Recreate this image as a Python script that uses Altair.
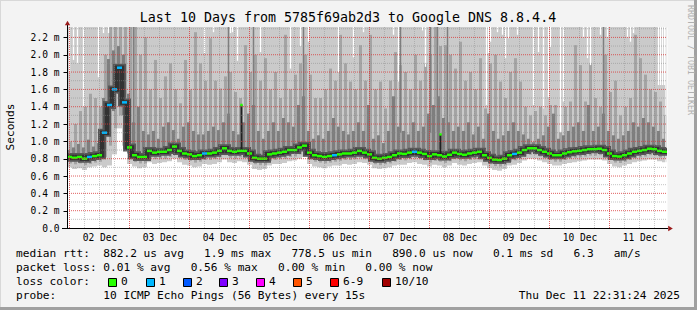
import altair as alt
import pandas as pd

MONO = "DejaVu Sans Mono"

# ---------------- data ----------------
T0 = 23.0          # hours after 2025-12-01 00:00 at the left edge of the plot
T1 = 263.0
STEP = 2.0         # hours per consolidated sample
YMAX = 2.32        # ms

med = [0.82,0.81,0.82,0.80,0.82,0.83,0.84,1.10,1.42,1.60,1.85,1.45,0.93,0.84,0.82,0.82,0.89,0.87,0.88,0.88,
       0.90,0.94,0.89,0.86,0.85,0.83,0.84,0.86,0.86,0.87,0.89,0.92,0.89,0.88,0.89,0.89,0.86,0.81,0.80,0.80,
       0.85,0.86,0.87,0.88,0.90,0.90,0.93,0.95,0.87,0.84,0.83,0.82,0.83,0.84,0.85,0.86,0.86,0.87,0.89,0.87,
       0.85,0.81,0.80,0.81,0.82,0.84,0.86,0.855,0.87,0.88,0.87,0.855,0.83,0.85,0.84,0.825,0.845,0.87,0.855,0.845,
       0.86,0.87,0.88,0.84,0.81,0.79,0.785,0.80,0.84,0.855,0.87,0.90,0.92,0.92,0.90,0.88,0.86,0.84,0.84,0.86,
       0.875,0.885,0.89,0.90,0.91,0.91,0.915,0.90,0.86,0.83,0.825,0.84,0.86,0.88,0.89,0.90,0.915,0.91,0.89,0.88]

loss = [0,0,0,0,1,0,0,1,1,1,1,1,0,0,0,0,0,0,0,0,
        0,0,0,0,0,0,0,1,0,0,0,0,0,0,0,0,0,0,0,0,
        0,0,0,0,0,0,0,0,0,0,0,0,0,1,0,0,0,0,0,0,
        0,0,0,0,0,0,0,0,0,1,0,0,0,0,0,0,0,0,0,0,
        0,0,0,0,0,0,0,0,0,1,0,0,0,0,0,0,0,0,0,0,
        0,0,0,0,0,0,0,0,0,0,0,0,0,0,0,0,0,0,0,0]

lo_c = [0.78,0.77,0.78,0.76,0.78,0.79,0.80,0.90,1.15,1.35,1.55,1.30,0.86,0.80,0.78,0.78,0.85,0.83,0.84,0.84,
        0.86,0.89,0.85,0.82,0.81,0.79,0.80,0.82,0.82,0.83,0.85,0.87,0.85,0.84,0.85,0.85,0.82,0.77,0.76,0.76,
        0.81,0.82,0.83,0.84,0.86,0.86,0.88,0.90,0.83,0.80,0.79,0.78,0.79,0.80,0.81,0.82,0.82,0.83,0.85,0.83,
        0.81,0.77,0.76,0.77,0.78,0.80,0.82,0.81,0.83,0.84,0.83,0.81,0.79,0.81,0.80,0.78,0.80,0.83,0.81,0.80,
        0.82,0.83,0.84,0.80,0.77,0.75,0.74,0.76,0.80,0.81,0.83,0.86,0.88,0.88,0.86,0.84,0.82,0.80,0.80,0.82,
        0.83,0.84,0.85,0.86,0.87,0.87,0.87,0.86,0.82,0.79,0.78,0.80,0.82,0.84,0.85,0.86,0.87,0.87,0.85,0.84]

lo_b = [0.745,0.735,0.745,0.725,0.74,0.755,0.765,0.82,0.95,1.15,1.30,1.15,0.80,0.76,0.745,0.745,0.81,0.795,0.80,0.80,
        0.82,0.86,0.815,0.785,0.775,0.755,0.765,0.785,0.785,0.795,0.815,0.84,0.81,0.80,0.815,0.815,0.785,0.735,0.725,0.725,
        0.775,0.785,0.795,0.80,0.82,0.825,0.85,0.87,0.795,0.765,0.755,0.745,0.755,0.765,0.775,0.785,0.785,0.795,0.81,0.795,
        0.775,0.735,0.725,0.735,0.745,0.765,0.785,0.78,0.795,0.805,0.795,0.78,0.755,0.775,0.765,0.75,0.77,0.795,0.78,0.77,
        0.785,0.795,0.805,0.765,0.735,0.715,0.71,0.725,0.765,0.78,0.795,0.825,0.845,0.845,0.825,0.805,0.785,0.765,0.765,0.785,
        0.80,0.81,0.815,0.825,0.835,0.835,0.84,0.825,0.785,0.755,0.75,0.765,0.785,0.805,0.815,0.825,0.84,0.835,0.815,0.805]

lo_a = [0.70,0.68,0.69,0.67,0.70,0.71,0.72,0.70,0.72,0.85,1.15,0.95,0.74,0.71,0.69,0.70,0.76,0.74,0.75,0.76,
        0.77,0.80,0.76,0.73,0.72,0.70,0.71,0.74,0.73,0.74,0.76,0.79,0.76,0.75,0.77,0.76,0.73,0.68,0.67,0.68,
        0.72,0.74,0.74,0.75,0.77,0.78,0.80,0.82,0.74,0.71,0.70,0.69,0.71,0.72,0.72,0.74,0.73,0.74,0.76,0.75,
        0.73,0.69,0.68,0.69,0.70,0.72,0.73,0.73,0.75,0.76,0.74,0.73,0.71,0.73,0.72,0.70,0.72,0.75,0.73,0.72,
        0.74,0.75,0.76,0.72,0.69,0.67,0.66,0.68,0.72,0.73,0.75,0.78,0.80,0.80,0.78,0.76,0.74,0.72,0.72,0.74,
        0.75,0.76,0.77,0.78,0.79,0.79,0.79,0.78,0.74,0.71,0.70,0.72,0.74,0.76,0.77,0.78,0.79,0.79,0.77,0.76]

mid = [1.00,1.20,1.35,1.40,1.55,1.50,1.40,2.00,2.32,2.32,2.32,2.32,2.32,2.32,2.00,2.20,1.60,1.94,1.50,1.75,
       1.90,1.60,1.44,1.94,1.60,2.26,1.90,1.70,2.19,1.70,1.61,1.75,1.80,1.57,1.50,2.11,1.80,2.00,1.70,1.96,
       1.60,1.80,1.50,2.23,1.60,1.77,1.90,2.00,1.77,1.50,1.50,1.60,1.84,1.70,2.23,1.90,1.69,1.60,2.11,1.70,
       2.23,1.60,1.69,1.38,1.70,2.03,1.88,1.80,1.60,2.00,1.70,1.90,2.00,2.32,2.10,2.11,2.00,1.84,2.15,1.70,
       1.80,1.60,1.96,1.38,1.90,2.00,1.69,1.50,1.80,1.96,1.69,1.40,1.30,1.35,1.40,1.30,1.42,1.42,1.10,1.40,
       1.46,2.11,1.88,1.46,1.90,1.50,1.40,2.00,1.57,1.70,1.30,1.40,1.50,2.23,1.96,1.77,1.60,1.57,1.46,1.30]

dark = [0.90,0.93,0.97,0.93,1.02,0.94,0.98,1.50,1.95,2.05,2.10,2.00,1.55,1.22,1.40,1.12,1.08,1.12,1.03,1.17,
        1.22,1.13,1.03,1.17,1.22,1.12,1.08,1.08,1.12,1.17,1.13,1.22,1.32,1.12,1.08,1.22,1.32,1.42,1.12,1.03,
        1.12,1.22,1.12,1.27,1.22,1.17,1.42,1.52,1.12,1.03,1.07,1.03,1.12,1.27,1.17,1.12,1.08,1.12,1.22,1.12,
        1.42,1.03,1.07,0.98,1.12,1.52,1.17,1.12,1.08,1.22,1.12,1.17,1.32,1.42,1.52,1.27,1.22,1.12,1.17,1.12,
        1.22,1.08,1.17,1.03,1.32,1.12,1.03,1.07,1.12,1.22,1.12,1.08,1.03,0.99,1.03,1.07,1.17,1.32,1.03,1.07,
        1.12,1.17,1.22,1.12,1.42,1.12,1.17,1.32,1.12,1.07,1.03,1.07,1.12,1.22,1.17,1.27,1.22,1.17,1.12,1.03]

# thin white gaps (sample whose largest ping stayed below the top of the plot)
gap_t = [24.0,25.6,27.2,29.6,35.6,37.6,39.6,78.0,81.6,88.4,89.2,91.2,100.4,112.4,116.4,119.6,131.6,137.6,
         141.6,153.6,155.6,165.2,166.4,190.8,191.6,192.4,195.2,197.2,198.4,199.6,203.2,209.6,211.6,213.6,
         215.6,216.4,220.4,221.6,229.6,231.2,232.4,236.4,239.2,247.2,248.4,249.6,259.6,260.4,261.2,262.0,262.6]
gap_v = [1.79,1.94,1.90,1.40,1.74,2.25,2.25,2.02,2.26,2.25,2.26,1.93,2.03,1.84,2.10,2.15,1.80,1.97,
         2.26,2.23,1.69,2.28,1.86,1.42,2.02,2.15,2.26,2.23,1.96,2.19,2.23,1.42,2.03,1.38,
         1.51,2.09,1.11,1.46,2.20,1.96,1.88,2.23,2.20,2.20,2.15,2.25,1.65,1.65,1.65,1.65,0.0]

# thin dark streaks reaching the top
streak_t = [49.6,87.6,97.6,117.6,156.4,168.4,171.2,175.2,237.6]
streak_lo = [1.10,1.10,1.10,1.10,1.10,1.10,1.10,1.10,1.10]

# single-sample median spikes
spike_t = [92.8,172.4]
spike_base = [0.89,0.84]
spike_top = [1.42,1.08]

loss_codes = [0,1,2,3,4,5,6,10]
loss_labels = ["0","1","2","3","4","5","6-9","10/10"]
loss_colors = ["#26ff00","#00b8ff","#0059ff","#7e00ff","#ff00ff","#ff5500","#ff0000","#a10000"]

day_noon = [36,60,84,108,132,156,180,204,228,252]
day_midnight = [24,48,72,96,120,144,168,192,216,240]
minor_x = [h for h in range(30, 263, 6) if h % 24 != 0]
y_ticks = [0.0,0.2,0.4,0.6,0.8,1.0,1.2,1.4,1.6,1.8,2.0,2.2]
major_y = y_ticks[1:]
minor_y = [0.1,0.3,0.5,0.7,0.9,1.1,1.3,1.5,1.7,1.9,2.1,2.3]

title_text = "Last 10 Days from 5785f69ab2d3 to Google DNS 8.8.4.4"
row1 = "median rtt:  882.2 us avg   1.9 ms max   778.5 us min   890.0 us now   0.1 ms sd   6.3   am/s"
row2 = "packet loss: 0.01 % avg   0.56 % max   0.00 % min   0.00 % now"
row3_label = "loss color:"
box_x = [108,146,183,219,256,293,330,382]
row4 = "probe:       10 ICMP Echo Pings (56 Bytes) every 15s"
stamp_text = "Thu Dec 11 22:31:24 2025"

# ---------------- layout ----------------
W, H = 600, 201
PL, PT = 67, 27
LEG = 11.16      # legend font size

n = len(med)
bins = pd.DataFrame({
    "t0": [T0 + STEP * i for i in range(n)],
    "t1": [T0 + STEP * (i + 1) for i in range(n)],
    "med": med, "loss": loss, "lo_a": lo_a, "lo_b": lo_b, "lo_c": lo_c,
    "mid": mid, "dark": dark,
})
line_df = pd.DataFrame({"t0": list(bins["t0"]) + [T1], "med": med + [med[-1]]})
gaps = pd.DataFrame({"t": gap_t, "v": gap_v})
streaks = pd.DataFrame({"t": streak_t, "v": streak_lo})
spikes = pd.DataFrame({"t": spike_t, "b": spike_base, "v": spike_top})
dummy = pd.DataFrame({"a": [0]})

xs = alt.Scale(domain=[T0, T1], nice=False, zero=False)
ys = alt.Scale(domain=[0, YMAX], nice=False, zero=False)

x_axis = alt.Axis(values=day_noon, grid=False, ticks=False, domain=False, title=None,
                  labelExpr="(floor(datum.value/24)+1 < 10 ? '0' : '') + (floor(datum.value/24)+1) + ' Dec'",
                  labelFont=MONO, labelFontSize=9.6, labelColor="black", labelPadding=4, labelFlush=False)
y_axis = alt.Axis(values=y_ticks, grid=False, domain=False, title=None,
                  labelExpr="datum.value == 0 ? '0.0' : format(datum.value, '.1f') + ' m'",
                  labelFont=MONO, labelFontSize=9.6, labelColor="black", labelPadding=4,
                  tickSize=4, tickColor="black", labelFlush=False)

def X(f):
    return alt.X(f, type="quantitative", scale=xs, axis=x_axis)

def Y(f):
    return alt.Y(f, type="quantitative", scale=ys, axis=y_axis)

band_a = alt.Chart(bins).mark_rect(color="#cacaca").encode(x=X("t0"), x2="t1", y=Y("lo_a"), y2=alt.value(0))
band_b = alt.Chart(bins).mark_rect(color="#a4a4a4", xOffset=2).encode(x=X("t0"), x2="t1", y=Y("lo_b"), y2="mid")
gap_l = alt.Chart(gaps).mark_rule(color="white", strokeWidth=1.3).encode(x=X("t"), y=Y("v"), y2=alt.value(0))
streak_l = alt.Chart(streaks).mark_rule(color="#7e7e7e", strokeWidth=1.5).encode(x=X("t"), y=Y("v"), y2=alt.value(0))
band_c = alt.Chart(bins).mark_rect(color="#7e7e7e", x2Offset=-2).encode(x=X("t0"), x2="t1", y=Y("lo_c"), y2="dark")
band_d = alt.Chart(line_df).mark_line(color="#585858", strokeWidth=8, interpolate="step-after").encode(x=X("t0"), y=Y("med"))
band_e = alt.Chart(line_df).mark_line(color="#323232", strokeWidth=4.5, interpolate="step-after").encode(x=X("t0"), y=Y("med"))
spike_l = alt.Chart(spikes).mark_rule(color="#202020", strokeWidth=2).encode(x=X("t"), y=Y("b"), y2="v")
spike_p = alt.Chart(spikes).mark_square(color="#26ff00", size=6, opacity=1).encode(x=X("t"), y=Y("v"))
median_l = alt.Chart(bins).mark_rule(strokeWidth=2.5, strokeCap="butt").encode(
    x=X("t0"), x2="t1", y=Y("med"),
    color=alt.Color("loss:O", scale=alt.Scale(domain=loss_codes, range=loss_colors), legend=None))

gx_minor = alt.Chart(pd.DataFrame({"t": minor_x})).mark_rule(color="#8a8a8a", strokeDash=[1, 1], opacity=0.45).encode(
    x=X("t"), y=alt.value(0), y2=alt.value(H))
gy_minor = alt.Chart(pd.DataFrame({"v": minor_y})).mark_rule(color="#8a8a8a", strokeDash=[1, 1], opacity=0.5).encode(
    y=Y("v"), x=alt.value(0), x2=alt.value(W))
gx_major = alt.Chart(pd.DataFrame({"t": day_midnight})).mark_rule(color="#d83838", strokeDash=[1, 1], opacity=0.8).encode(
    x=X("t"), y=alt.value(0), y2=alt.value(H))
gy_major = alt.Chart(pd.DataFrame({"v": major_y})).mark_rule(color="#d83838", strokeDash=[1, 1], opacity=0.8).encode(
    y=Y("v"), x=alt.value(0), x2=alt.value(W))

def rule(x1, y1, x2, y2, color, w=1):
    return alt.Chart(dummy).mark_rule(color=color, strokeWidth=w).encode(
        x=alt.value(x1 - PL), x2=alt.value(x2 - PL), y=alt.value(y1 - PT), y2=alt.value(y2 - PT))

def txt(s, px, py, size=LEG, align="left", color="black", angle=0):
    return alt.Chart(dummy).mark_text(text=s.replace(" ", "\u00a0"), align=align, baseline="middle",
                                      font=MONO, fontSize=size, color=color, angle=angle).encode(
        x=alt.value(px - PL), y=alt.value(py - PT))

frame = [
    rule(0, 0.5, 697, 0.5, "#d8d8d8", 1), rule(0.5, 0, 0.5, 310, "#d8d8d8", 1),
    rule(0, 308.5, 697, 308.5, "#a0a0a0", 3), rule(695.5, 0, 695.5, 310, "#a0a0a0", 3),
]
axes_lines = [
    rule(62, 228.5, 668, 228.5, "black", 1),
    rule(67.5, 229, 67.5, 25, "black", 1),
    alt.Chart(dummy).mark_point(shape="triangle-up", filled=True, size=28, color="#9b1b1b", opacity=1).encode(
        x=alt.value(0.5), y=alt.value(-4)),
    alt.Chart(dummy).mark_point(shape="triangle-right", filled=True, size=28, color="#9b1b1b", opacity=1).encode(
        x=alt.value(603.5), y=alt.value(201.5)),
]

texts = [txt(title_text, 348, 18, size=13.3, align="center"),
         txt("Seconds", 11, 127, size=11.16, align="center", angle=270),
         txt("RRDTOOL / TOBI OETIKER", 690, 5, size=8.3, align="left", color="#b0b0b0", angle=90),
         txt(row1, 16, 254), txt(row2, 16, 268), txt(row3_label, 16, 282), txt(row4, 16, 296),
         txt(stamp_text, 680, 296, align="right")]
boxes = []
for bx, lab, col in zip(box_x, loss_labels, loss_colors):
    boxes.append(alt.Chart(dummy).mark_rect(fill=col, stroke="black", strokeWidth=1).encode(
        x=alt.value(bx - PL + 0.5), x2=alt.value(bx - PL + 8.5), y=alt.value(278.5 - PT), y2=alt.value(286.5 - PT)))
    texts.append(txt(lab, bx + 13, 282))

chart = alt.layer(
    band_a, band_b, gap_l, streak_l, band_c, band_d, band_e, spike_l, median_l, spike_p,
    gx_minor, gy_minor, gx_major, gy_major, *axes_lines, *frame, *boxes, *texts
).properties(
    width=W, height=H, autosize="none",
    padding={"left": PL, "top": PT, "right": 697 - PL - W, "bottom": 310 - PT - H},
    background="#f3f3f3",
).configure_view(fill="white", stroke="transparent")

chart.save("out.html", embed_options={"renderer": "svg", "actions": False})
